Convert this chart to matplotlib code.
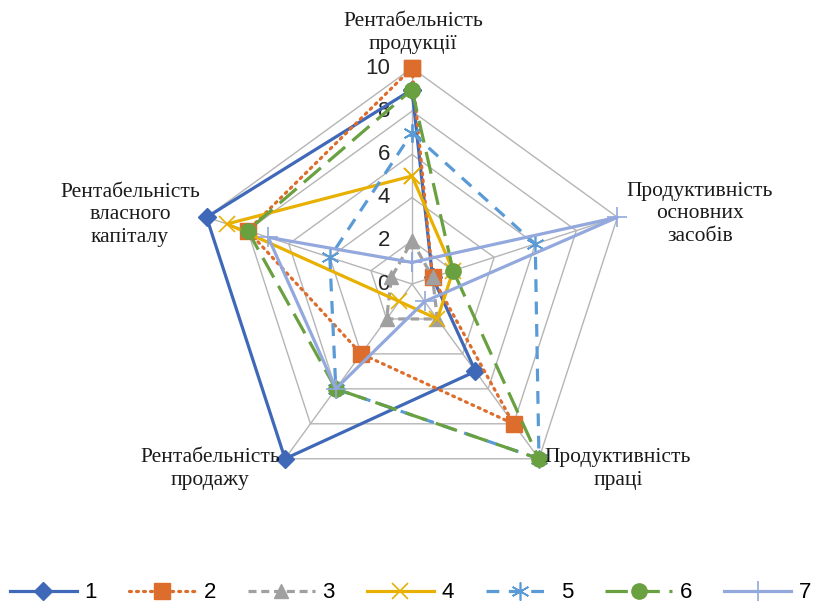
import numpy as np
import matplotlib
matplotlib.use("Agg")
import matplotlib.pyplot as plt

# -----------------------------------------------------------
# Дані
# -----------------------------------------------------------
categories = ["Рентабельність\nпродукції",
              "Продуктивність\nосновних\nзасобів",
              "Продуктивність\nпраці",
              "Рентабельність\nпродажу",
              "Рентабельність\nвласного\nкапіталу"]

series_names = ["1", "2", "3", "4", "5", "6", "7"]
s1 = [9, 1, 5, 10, 10]
s2 = [10, 1, 8, 4, 8]
s3 = [2, 1, 2, 2, 1]
s4 = [5, 2, 2, 1, 9]
s5 = [7, 6, 10, 6, 4]
s6 = [9, 2, 10, 6, 8]
s7 = [1, 10, 1, 6, 7]
ticks = [0, 2, 4, 6, 8, 10]

values = [s1, s2, s3, s4, s5, s6, s7]

# стиль кожної серії
colors = ["#3F69B8", "#DC6D2C", "#A0A0A0", "#E8B000", "#5B9BD5", "#69A040", "#93A8DC"]
styles = ["-", (0, (0.6, 1.6)), (0, (2.5, 1.5)), "-", (0, (4, 3)), (0, (7, 3)), "-"]
markers = ["D", "s", "^", "x", (6, 2, 0), "o", "+"]
msizes = [9, 11, 10, 12, 13, 11, 14]

W, H = 821, 607
fig = plt.figure(figsize=(W / 100, H / 100), dpi=100)

# центр (412, 284), радіус 216 px
cx, cy, R = 412, 284, 216
ax = fig.add_axes([(cx - R) / W, (H - cy - R) / H, 2 * R / W, 2 * R / H], projection="polar")
ax.set_theta_offset(np.pi / 2)
ax.set_theta_direction(-1)
ax.set_ylim(0, 10)
ax.grid(False)
ax.spines["polar"].set_visible(False)
ax.set_xticks([])
ax.set_yticks([])
ax.patch.set_visible(False)

n = len(categories)
angles = [2 * np.pi * i / n for i in range(n)]
closed = angles + angles[:1]

# сітка-п'ятикутник
for t in ticks[1:]:
    ax.plot(closed, [t] * (n + 1), color="#B5B5B5", lw=1, zorder=1, clip_on=False)
for a in angles:
    ax.plot([a, a], [0, ticks[-1]], color="#B5B5B5", lw=1, zorder=1, clip_on=False)

# підписи шкали
for t in ticks:
    ax.annotate(str(t), xy=(0, t), xytext=(-22, 0), textcoords="offset pixels",
                ha="right", va="center", fontsize=16, family="Liberation Sans",
                color="#262626", zorder=2)

# серії
for i, v in enumerate(values):
    ax.plot(closed, v + v[:1], color=colors[i], ls=styles[i], lw=2.3,
            marker=markers[i], ms=msizes[i], mew=1.2 if markers[i] in ("x", "+") or i == 4 else 1,
            mec=colors[i], mfc=colors[i], label=series_names[i],
            clip_on=False, zorder=3 + i, dash_capstyle="round" if i == 1 else "butt")

# назви осей
label_pos = [(413, 33), (700, 214), (618, 469), (210, 469), (130, 215)]
for lab, (x, y) in zip(categories, label_pos):
    fig.text(x / W, 1 - y / H, lab, ha="center", va="center", fontsize=15.5,
             family="Liberation Serif", linespacing=1.25, color="#1a1a1a")

fig.legend(loc="center", bbox_to_anchor=(0.5, 1 - 593 / H), ncol=7, frameon=False,
           handlelength=3.0, columnspacing=1.45, handletextpad=0.35,
           prop={"family": "Liberation Sans", "size": 16})

fig.savefig("out.png", dpi=100)
